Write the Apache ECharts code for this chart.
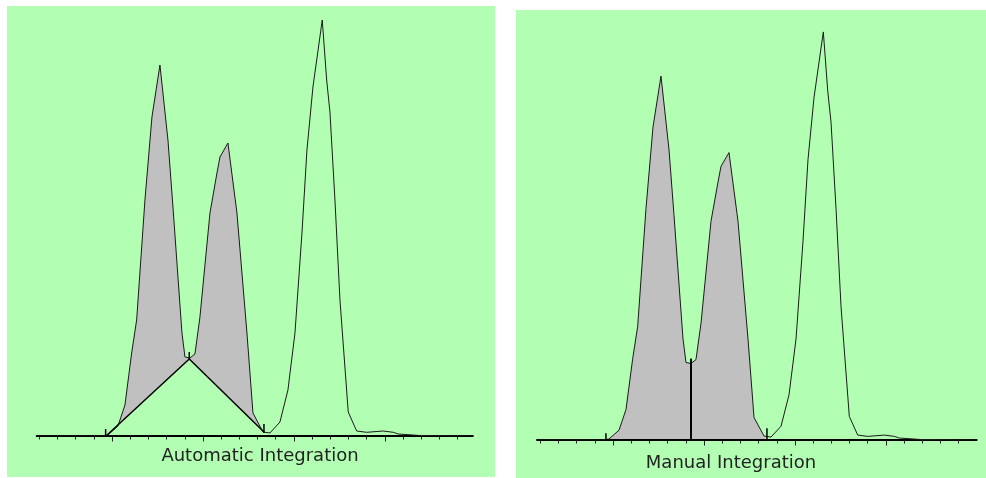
<!DOCTYPE html>
<html><head><meta charset="utf-8">
<script src="https://cdn.jsdelivr.net/npm/echarts@6/dist/echarts.min.js"></script>
<style>html,body{margin:0;padding:0;background:#fff}#c{width:986px;height:478px}</style>
</head><body><div id="c"></div>
<script>
// Chromatogram trace (time units, detector signal)
const times  = [0.86, 4.338, 4.777, 5.327, 5.712, 6.080, 6.355, 6.811, 7.196, 7.636, 8.076, 8.351, 8.846, 9.011, 9.285, 9.560, 9.835, 10.385, 10.770, 10.935, 11.374, 11.869, 12.419, 12.749, 13.299, 13.683, 14.233, 14.673, 15.058, 15.443, 15.717, 16.047, 16.559, 16.801, 16.982, 17.257, 17.532, 17.988, 18.450, 19.000, 19.912, 20.462, 20.737, 21.930, 24.99];
const signal = [0, 0, 1, 10, 31, 83, 116, 236, 319, 371, 296, 229, 103, 79, 78, 82, 119, 223, 263, 279, 293, 223, 103, 23, 4, 3, 14, 46, 103, 203, 286, 349, 416, 356, 324, 236, 136, 24, 5, 3.7, 5, 3.7, 2, 0.5, 0];

const majorTicks = [5, 10, 15, 20];
const minorTicks = [1,2,3,4,5,6,7,8,9,10,11,12,13,14,15,16,17,18,19,20,21,22,23,24];

// Automatic integration: valley-to-valley baseline
const autoBaseline = [[4.70, 0.5], [9.247, 77], [13.354, 4]];
const autoMarkers  = [[4.65, 0, 7], [9.247, 77, 84], [13.354, 3, 12]];

// Manual integration: horizontal baseline with perpendicular drop
const manualBaseline = [[4.61, 0], [13.46, 0]];
const manualMarkers  = [[4.61, 0, 7], [13.46, 0, 12]];
const manualDrop     = [[9.285, 0, 83]];

const titles = ['Automatic Integration', 'Manual Integration'];

const curve = times.map((t, i) => [t, signal[i]]);

const GREEN = '#b2feb2';
const FILL = '#c0c0c0';

function polygonRenderer(startPt, endPts) {
  return function (params, api) {
    if (params.dataIndex !== 0) return;
    const t0 = startPt[0], t1 = endPts[0][0];
    const pts = [api.coord(startPt)];
    curve.forEach(p => { if (p[0] > t0 && p[0] < t1) pts.push(api.coord(p)); });
    endPts.forEach(p => pts.push(api.coord(p)));
    return { type: 'polygon', shape: { points: pts }, style: { fill: FILL, stroke: null } };
  };
}
function segRenderer(width) {
  return function (params, api) {
    const a = api.coord([api.value(0), api.value(1)]);
    const b = api.coord([api.value(0), api.value(2)]);
    return { type: 'line', shape: { x1: a[0], y1: a[1], x2: b[0], y2: b[1] },
             style: { stroke: '#000', lineWidth: width } };
  };
}

function xAxes(gridIndex, min, max) {
  const base = { type: 'value', gridIndex, min, max, position: 'bottom',
    axisLabel: { show: false }, splitLine: { show: false } };
  return [
    Object.assign({}, base, {
      axisLine: { show: true, onZero: false, lineStyle: { color: '#000', width: 2 } },
      axisTick: { show: true, customValues: majorTicks, length: 5.5, lineStyle: { color: '#222', width: 1 } }
    }),
    Object.assign({}, base, {
      axisLine: { show: false },
      axisTick: { show: true, customValues: minorTicks, length: 3.5, lineStyle: { color: '#222', width: 1 } }
    })
  ];
}

const chart = echarts.init(document.getElementById('c'), null, { renderer: 'canvas' });
chart.setOption({
  animation: false,
  backgroundColor: '#fff',
  graphic: [
    { type: 'rect', z: -10, shape: { x: 7, y: 6, width: 488, height: 471 }, style: { fill: GREEN } },
    { type: 'rect', z: -10, shape: { x: 516, y: 10, width: 470, height: 468 }, style: { fill: GREEN } },
    { type: 'text', x: 260, y: 456, style: { text: titles[0], fontFamily: 'DejaVu Sans', fontSize: 18, fill: '#222', align: 'center', verticalAlign: 'middle' } },
    { type: 'text', x: 731, y: 463, style: { text: titles[1], fontFamily: 'DejaVu Sans', fontSize: 18, fill: '#222', align: 'center', verticalAlign: 'middle' } }
  ],
  grid: [
    { left: 36.7, top: 16, width: 436, height: 420 },
    { left: 537, top: 28, width: 439.7, height: 412 }
  ],
  xAxis: [].concat(xAxes(0, 0.86, 24.83), xAxes(1, 0.82, 24.99)),
  yAxis: [
    { type: 'value', gridIndex: 0, min: 0, max: 420, show: false },
    { type: 'value', gridIndex: 1, min: 0, max: 420, show: false }
  ],
  series: [
    // Left: automatic
    { type: 'custom', xAxisIndex: 0, yAxisIndex: 0, z: 1, clip: false,
      renderItem: polygonRenderer(autoBaseline[0], [autoBaseline[2], autoBaseline[1]]),
      data: [autoBaseline[0]] },
    { type: 'line', xAxisIndex: 0, yAxisIndex: 0, z: 3, data: curve, showSymbol: false, symbol: 'none',
      lineStyle: { color: '#1a1a1a', width: 1 } },
    { type: 'line', xAxisIndex: 0, yAxisIndex: 0, z: 4, data: autoBaseline, showSymbol: false, symbol: 'none',
      lineStyle: { color: '#000', width: 1.5 } },
    { type: 'custom', xAxisIndex: 0, yAxisIndex: 0, z: 5, renderItem: segRenderer(1.5),
      encode: { x: 0, y: [1, 2] }, data: autoMarkers },
    // Right: manual
    { type: 'custom', xAxisIndex: 2, yAxisIndex: 1, z: 1, clip: false,
      renderItem: polygonRenderer(manualBaseline[0], [manualBaseline[1]]),
      data: [manualBaseline[0]] },
    { type: 'line', xAxisIndex: 2, yAxisIndex: 1, z: 3, data: curve, showSymbol: false, symbol: 'none',
      lineStyle: { color: '#1a1a1a', width: 1 } },
    { type: 'line', xAxisIndex: 2, yAxisIndex: 1, z: 4, data: manualBaseline, showSymbol: false, symbol: 'none',
      lineStyle: { color: '#000', width: 2 } },
    { type: 'custom', xAxisIndex: 2, yAxisIndex: 1, z: 5, renderItem: segRenderer(1.5),
      encode: { x: 0, y: [1, 2] }, data: manualMarkers },
    { type: 'custom', xAxisIndex: 2, yAxisIndex: 1, z: 5, renderItem: segRenderer(2),
      encode: { x: 0, y: [1, 2] }, data: manualDrop }
  ]
});
</script></body></html>
